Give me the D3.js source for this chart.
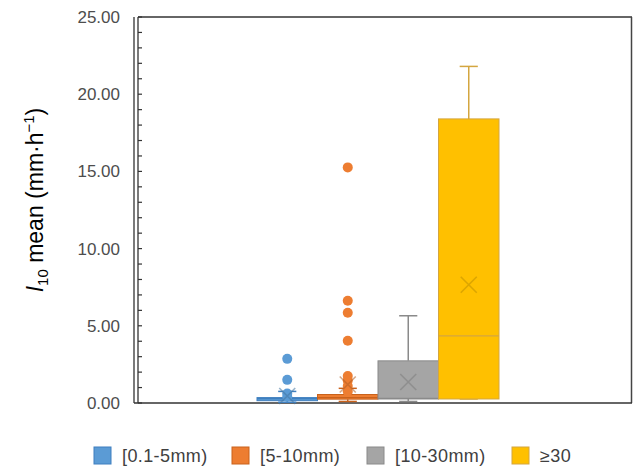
<!DOCTYPE html>
<html>
<head>
<meta charset="utf-8">
<script src="https://cdn.jsdelivr.net/npm/d3@7"></script>
<style>
  body { margin: 0; background: #fff; }
  svg { display: block; font-family: Arial, "Liberation Sans", sans-serif; }
</style>
</head>
<body>
<div id="chart"></div>
<script>
const categories = ["[0.1-5mm)", "[5-10mm)", "[10-30mm)", "≥30"]
const colors = ["#5B9BD5", "#ED7D31", "#A5A5A5", "#FFC000"]
const strokes = ["#3f7fbf", "#c9621c", "#8a8a8a", "#d4a640"]
const whiskerLow = [0.05, 0.1, 0.1, 0.26]
const q1 = [0.15, 0.25, 0.26, 0.26]
const median = [0.28, 0.35, 0.3, 4.35]
const q3 = [0.35, 0.55, 2.73, 18.4]
const whiskerHigh = [0.75, 0.95, 5.65, 21.8]
const means = [0.45, 1.2, 1.36, 7.66]
const outliers = [
    [2.86, 1.5, 0.62, 0.4],
    [15.26, 6.62, 5.84, 4.03, 1.75, 1.45, 1.1, 0.75],
    [],
    []
]
const yTicks = [0, 5, 10, 15, 20, 25]

const width = 633
const height = 470
const plot = { left: 138, right: 632, top: 17, bottom: 403 }

const svg = d3.select("#chart").append("svg")
    .attr("width", width)
    .attr("height", height)

const y = d3.scaleLinear().domain([0, 25]).range([plot.bottom, plot.top])
const x = d3.scaleBand().domain(categories).range([257, 499]).padding(0)
const bw = x.bandwidth()

// frame: top, right and bottom lines
svg.append("line").attr("x1", plot.left).attr("x2", plot.right)
    .attr("y1", plot.top).attr("y2", plot.top)
    .attr("stroke", "#333").attr("stroke-width", 1.5)
svg.append("line").attr("x1", plot.right - 0.5).attr("x2", plot.right - 0.5)
    .attr("y1", plot.top).attr("y2", plot.bottom)
    .attr("stroke", "#444").attr("stroke-width", 1.5)
svg.append("line").attr("x1", plot.left - 4).attr("x2", plot.right)
    .attr("y1", plot.bottom).attr("y2", plot.bottom)
    .attr("stroke", "#333").attr("stroke-width", 1.5)

// double left axis line
svg.append("line").attr("x1", plot.left - 4).attr("x2", plot.left - 4)
    .attr("y1", plot.top).attr("y2", plot.bottom)
    .attr("stroke", "#333").attr("stroke-width", 1.3)
svg.append("line").attr("x1", plot.left).attr("x2", plot.left)
    .attr("y1", plot.top).attr("y2", plot.bottom)
    .attr("stroke", "#333").attr("stroke-width", 1.3)

// minor ticks every 1.0, pointing inward
const minor = d3.range(0, 26, 1)
svg.selectAll(".minor").data(minor).enter().append("line")
    .attr("x1", plot.left).attr("x2", plot.left + 4)
    .attr("y1", d => y(d)).attr("y2", d => y(d))
    .attr("stroke", "#333").attr("stroke-width", 1.2)

// tick labels
svg.selectAll(".ylab").data(yTicks).enter().append("text")
    .attr("x", 120)
    .attr("y", d => y(d))
    .attr("dy", "0.35em")
    .attr("text-anchor", "end")
    .style("font-size", "17px")
    .style("fill", "#4d4d4d")
    .text(d => d.toFixed(2))

// y title
const title = svg.append("text")
    .attr("transform", "translate(43,200) rotate(-90)")
    .attr("text-anchor", "middle")
    .style("font-size", "23px")
    .style("fill", "#000")
title.append("tspan").style("font-style", "italic").text("I")
title.append("tspan").attr("dy", 5).style("font-size", "15px").text("10")
title.append("tspan").attr("dy", -5).text(" mean (mm·h")
title.append("tspan").attr("dy", -9).style("font-size", "15px").text("−1")
title.append("tspan").attr("dy", 9).text(")")

// boxes
categories.forEach((c, i) => {
    const g = svg.append("g")
    const cx = x(c) + bw / 2
    // whiskers
    g.append("line").attr("x1", cx).attr("x2", cx)
        .attr("y1", y(q3[i])).attr("y2", y(whiskerHigh[i]))
        .attr("stroke", strokes[i]).attr("stroke-width", 1.5)
    g.append("line").attr("x1", cx - bw * 0.15).attr("x2", cx + bw * 0.15)
        .attr("y1", y(whiskerHigh[i])).attr("y2", y(whiskerHigh[i]))
        .attr("stroke", strokes[i]).attr("stroke-width", 1.5)
    g.append("line").attr("x1", cx).attr("x2", cx)
        .attr("y1", y(q1[i])).attr("y2", y(whiskerLow[i]))
        .attr("stroke", strokes[i]).attr("stroke-width", 1.5)
    g.append("line").attr("x1", cx - bw * 0.15).attr("x2", cx + bw * 0.15)
        .attr("y1", y(whiskerLow[i])).attr("y2", y(whiskerLow[i]))
        .attr("stroke", strokes[i]).attr("stroke-width", 1.5)
    // box
    g.append("rect")
        .attr("x", x(c))
        .attr("width", bw)
        .attr("y", y(q3[i]))
        .attr("height", Math.max(1.5, y(q1[i]) - y(q3[i])))
        .attr("fill", colors[i])
        .attr("stroke", strokes[i])
        .attr("stroke-width", 1)
    // median
    g.append("line").attr("x1", x(c)).attr("x2", x(c) + bw)
        .attr("y1", y(median[i])).attr("y2", y(median[i]))
        .attr("stroke", strokes[i]).attr("stroke-width", 1.2)
    // outliers
    g.selectAll("circle").data(outliers[i]).enter().append("circle")
        .attr("cx", cx)
        .attr("cy", d => y(d))
        .attr("r", 5)
        .attr("fill", colors[i])
    // mean marker
    const s = 8
    const my = y(means[i])
    g.append("path")
        .attr("d", `M${cx - s},${my - s}L${cx + s},${my + s}M${cx - s},${my + s}L${cx + s},${my - s}`)
        .attr("stroke", d3.color(colors[i]).darker(0.8))
        .attr("stroke-opacity", 0.55)
        .attr("stroke-width", 1.6)
        .attr("fill", "none")
})

// legend
const legendX = [94, 232, 367, 512]
const legend = svg.selectAll(".leg").data(categories).enter().append("g")
    .attr("transform", (d, i) => `translate(${legendX[i]},447)`)
legend.append("rect")
    .attr("width", 17).attr("height", 17)
    .attr("fill", (d, i) => colors[i])
    .attr("stroke", (d, i) => strokes[i])
    .attr("stroke-width", 1)
legend.append("text")
    .attr("x", 28).attr("y", 9).attr("dy", "0.35em")
    .style("font-size", "18px")
    .style("letter-spacing", "0.4px")
    .style("fill", "#404040")
    .text(d => d)
</script>
</body>
</html>
